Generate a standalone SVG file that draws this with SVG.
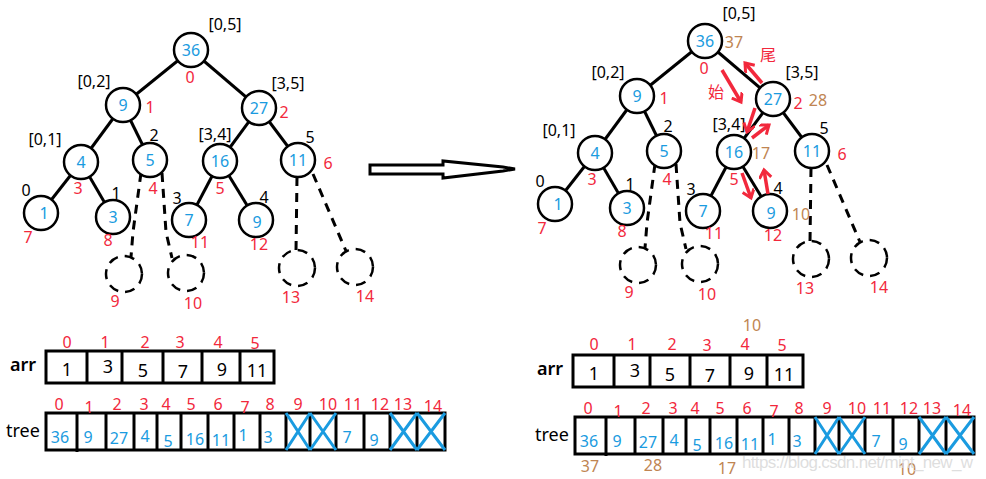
<svg xmlns="http://www.w3.org/2000/svg" width="986" height="479" viewBox="0 0 986 479">
<defs>
<style>
text{font-family:"Noto Sans","Noto Sans CJK SC",sans-serif;font-size:16px;text-anchor:middle}
.node circle{fill:#fff;stroke:#000;stroke-width:2.5}
.node text{fill:#1a9be0}
.ghost circle{fill:none;stroke:#000;stroke-width:2.5;stroke-dasharray:10 7}
.edge{stroke:#000;stroke-width:3;fill:none}
.dash{stroke:#000;stroke-width:3;fill:none;stroke-dasharray:9 7}
.blk{fill:#000}
.red{fill:#f2283c}
.tan{fill:#c08552}
.blue{fill:#1a9be0}
.box{fill:#fff;stroke:#000;stroke-width:3}
.div{stroke:#000;stroke-width:3}
.x{stroke:#1a9be0;stroke-width:3}
.lbl{font-size:18px;fill:#000;font-weight:600}
.tlbl{font-size:18px;fill:#000}
.val{font-size:18px;fill:#000}
.ra{stroke:#f2283c;stroke-width:3.5;fill:none;marker-end:url(#rh)}
</style>
<marker id="rh" markerWidth="14" markerHeight="14" refX="9" refY="6" orient="auto" markerUnits="userSpaceOnUse">
<path d="M1,0 L9,6 L1,12" fill="none" stroke="#f2283c" stroke-width="3"/>
</marker>
</defs>
<rect width="986" height="479" fill="#fff"/>

<!-- Left tree connectors -->
<g id="connectors-left">
<line class="edge" x1="191" y1="50" x2="123" y2="105"/>
<line class="edge" x1="191" y1="50" x2="259" y2="108"/>
<line class="edge" x1="123" y1="105" x2="81" y2="162"/>
<line class="edge" x1="123" y1="105" x2="150" y2="160"/>
<line class="edge" x1="259" y1="108" x2="220" y2="161"/>
<line class="edge" x1="259" y1="108" x2="298" y2="160"/>
<line class="edge" x1="81" y1="162" x2="41" y2="213"/>
<line class="edge" x1="81" y1="162" x2="113" y2="217"/>
<line class="edge" x1="220" y1="161" x2="189" y2="220"/>
<line class="edge" x1="220" y1="161" x2="256" y2="220"/>
<polyline class="dash" points="141,173 133,232 131,257"/>
<polyline class="dash" points="162,173 166,232 172,258"/>
<line class="dash" x1="297" y1="177" x2="296" y2="251"/>
<line class="dash" x1="313" y1="174" x2="346" y2="251"/>
</g>

<!-- Left tree nodes -->
<g id="L-n0" class="node"><circle cx="191" cy="50" r="17"/><text x="191" y="56">36</text></g>
<g id="L-n1" class="node"><circle cx="123" cy="105" r="17"/><text x="123" y="111">9</text></g>
<g id="L-n2" class="node"><circle cx="259" cy="108" r="17"/><text x="259" y="114">27</text></g>
<g id="L-n3" class="node"><circle cx="81" cy="162" r="17"/><text x="81" y="168">4</text></g>
<g id="L-n4" class="node"><circle cx="150" cy="160" r="17"/><text x="150" y="166">5</text></g>
<g id="L-n5" class="node"><circle cx="220" cy="161" r="17"/><text x="220" y="167">16</text></g>
<g id="L-n6" class="node"><circle cx="298" cy="160" r="17"/><text x="298" y="166">11</text></g>
<g id="L-n7" class="node"><circle cx="41" cy="213" r="17"/><text x="44" y="219">1</text></g>
<g id="L-n8" class="node"><circle cx="113" cy="217" r="17"/><text x="113" y="223">3</text></g>
<g id="L-n11" class="node"><circle cx="189" cy="220" r="17"/><text x="189" y="226">7</text></g>
<g id="L-n12" class="node"><circle cx="256" cy="220" r="17"/><text x="257" y="228">9</text></g>
<g id="L-n9" class="ghost"><circle cx="124" cy="274" r="18"/></g>
<g id="L-n10" class="ghost"><circle cx="186" cy="273" r="18"/></g>
<g id="L-n13" class="ghost"><circle cx="297" cy="268" r="18"/></g>
<g id="L-n14" class="ghost"><circle cx="355" cy="267" r="18"/></g>

<!-- Left tree labels -->
<g id="labels-left">
<text class="blk" x="225" y="30">[0,5]</text>
<text class="red" x="190" y="83">0</text>
<text class="blk" x="94" y="87">[0,2]</text>
<text class="red" x="150" y="113">1</text>
<text class="blk" x="288" y="89">[3,5]</text>
<text class="red" x="284" y="118">2</text>
<text class="blk" x="45" y="145">[0,1]</text>
<text class="blk" x="154" y="141">2</text>
<text class="blk" x="215" y="140">[3,4]</text>
<text class="blk" x="310" y="143">5</text>
<text class="red" x="328" y="169">6</text>
<text class="red" x="78" y="194">3</text>
<text class="red" x="153" y="194">4</text>
<text class="red" x="220" y="194">5</text>
<text class="blk" x="26" y="196">0</text>
<text class="blk" x="116" y="199">1</text>
<text class="blk" x="177" y="204">3</text>
<text class="blk" x="264" y="203">4</text>
<text class="red" x="28" y="243">7</text>
<text class="red" x="108" y="246">8</text>
<text class="red" x="200" y="248">11</text>
<text class="red" x="259" y="250">12</text>
<text class="red" x="115" y="307">9</text>
<text class="red" x="193" y="309">10</text>
<text class="red" x="291" y="303">13</text>
<text class="red" x="365" y="302">14</text>
</g>

<!-- Big arrow -->
<g id="transition-arrow">
<polygon points="370,165 443,165 443,161 503,167 515,169 503,171 443,178 443,174 370,174" fill="#fff" stroke="#000" stroke-width="3" stroke-linejoin="miter"/>
</g>

<!-- Right tree connectors -->
<g id="connectors-right" transform="translate(514,-9)">
<line class="edge" x1="191" y1="50" x2="123" y2="105"/>
<line class="edge" x1="191" y1="50" x2="259" y2="108"/>
<line class="edge" x1="123" y1="105" x2="81" y2="162"/>
<line class="edge" x1="123" y1="105" x2="150" y2="160"/>
<line class="edge" x1="259" y1="108" x2="220" y2="161"/>
<line class="edge" x1="259" y1="108" x2="298" y2="160"/>
<line class="edge" x1="81" y1="162" x2="41" y2="213"/>
<line class="edge" x1="81" y1="162" x2="113" y2="217"/>
<line class="edge" x1="220" y1="161" x2="189" y2="220"/>
<line class="edge" x1="220" y1="161" x2="256" y2="220"/>
<polyline class="dash" points="141,173 133,232 131,257"/>
<polyline class="dash" points="162,173 166,232 172,258"/>
<line class="dash" x1="297" y1="177" x2="296" y2="251"/>
<line class="dash" x1="313" y1="174" x2="346" y2="251"/>
</g>

<!-- Right tree nodes -->
<g transform="translate(514,-9)">
<g id="R-n0" class="node"><circle cx="191" cy="50" r="17"/><text x="191" y="56">36</text></g>
<g id="R-n1" class="node"><circle cx="123" cy="105" r="17"/><text x="123" y="111">9</text></g>
<g id="R-n2" class="node"><circle cx="259" cy="108" r="17"/><text x="259" y="114">27</text></g>
<g id="R-n3" class="node"><circle cx="81" cy="162" r="17"/><text x="81" y="168">4</text></g>
<g id="R-n4" class="node"><circle cx="150" cy="160" r="17"/><text x="150" y="166">5</text></g>
<g id="R-n5" class="node"><circle cx="220" cy="161" r="17"/><text x="220" y="167">16</text></g>
<g id="R-n6" class="node"><circle cx="298" cy="160" r="17"/><text x="298" y="166">11</text></g>
<g id="R-n7" class="node"><circle cx="41" cy="213" r="17"/><text x="44" y="219">1</text></g>
<g id="R-n8" class="node"><circle cx="113" cy="217" r="17"/><text x="113" y="223">3</text></g>
<g id="R-n11" class="node"><circle cx="189" cy="220" r="17"/><text x="189" y="226">7</text></g>
<g id="R-n12" class="node"><circle cx="256" cy="220" r="17"/><text x="257" y="228">9</text></g>
<g id="R-n9" class="ghost"><circle cx="124" cy="274" r="18"/></g>
<g id="R-n10" class="ghost"><circle cx="186" cy="273" r="18"/></g>
<g id="R-n13" class="ghost"><circle cx="297" cy="268" r="18"/></g>
<g id="R-n14" class="ghost"><circle cx="355" cy="267" r="18"/></g>
</g>

<!-- Right tree labels -->
<g id="labels-right" transform="translate(514,-9)">
<text class="blk" x="225" y="28">[0,5]</text>
<text class="red" x="190" y="83">0</text>
<text class="blk" x="94" y="87">[0,2]</text>
<text class="red" x="150" y="113">1</text>
<text class="blk" x="288" y="87">[3,5]</text>
<text class="red" x="284" y="118">2</text>
<text class="blk" x="45" y="145">[0,1]</text>
<text class="blk" x="154" y="141">2</text>
<text class="blk" x="215" y="139">[3,4]</text>
<text class="blk" x="310" y="143">5</text>
<text class="red" x="328" y="169">6</text>
<text class="red" x="78" y="194">3</text>
<text class="red" x="153" y="194">4</text>
<text class="red" x="220" y="194">5</text>
<text class="blk" x="26" y="196">0</text>
<text class="blk" x="116" y="199">1</text>
<text class="blk" x="177" y="204">3</text>
<text class="blk" x="264" y="203">4</text>
<text class="red" x="28" y="243">7</text>
<text class="red" x="108" y="246">8</text>
<text class="red" x="200" y="248">11</text>
<text class="red" x="259" y="250">12</text>
<text class="red" x="115" y="307">9</text>
<text class="red" x="193" y="309">10</text>
<text class="red" x="291" y="303">13</text>
<text class="red" x="365" y="302">14</text>
</g>
<g id="labels-right-extra">
<text class="tan" x="734" y="48">37</text>
<text class="tan" x="818" y="106">28</text>
<text class="tan" x="761" y="159">17</text>
<text class="tan" x="801" y="220">10</text>
<text class="red" x="768" y="61">尾</text>
<text class="red" x="716" y="98">始</text>
</g>

<!-- Red path arrows -->
<g id="path-arrows">
<line class="ra" x1="762" y1="83" x2="745" y2="63"/>
<line class="ra" x1="722" y1="70" x2="741" y2="102"/>
<line class="ra" x1="755" y1="108" x2="747" y2="132"/>
<line class="ra" x1="752" y1="138" x2="769" y2="125"/>
<line class="ra" x1="742" y1="173" x2="751" y2="198"/>
<line class="ra" x1="768" y1="194" x2="764" y2="170"/>
</g>

<!-- Left arrays -->
<g id="arr-left">
<text class="lbl" x="23" y="371">arr</text>
<rect class="box" x="46" y="351" width="228" height="32"/>
<line class="div" x1="87" y1="351" x2="87" y2="383"/>
<line class="div" x1="122" y1="351" x2="122" y2="383"/>
<line class="div" x1="163" y1="351" x2="163" y2="383"/>
<line class="div" x1="202" y1="351" x2="202" y2="383"/>
<line class="div" x1="240" y1="351" x2="240" y2="383"/>
<text class="red" x="67" y="348">0</text>
<text class="red" x="105" y="348">1</text>
<text class="red" x="145" y="348">2</text>
<text class="red" x="180" y="348">3</text>
<text class="red" x="218" y="348">4</text>
<text class="red" x="255" y="349">5</text>
<text class="val" x="67" y="376">1</text>
<text class="val" x="108" y="373">3</text>
<text class="val" x="143" y="377">5</text>
<text class="val" x="183" y="378">7</text>
<text class="val" x="222" y="376">9</text>
<text class="val" x="257" y="377">11</text>
</g>
<g id="tree-left">
<text class="tlbl" x="23" y="437">tree</text>
<rect class="box" x="46" y="413" width="399" height="37"/>
<line class="div" x1="77" y1="413" x2="77" y2="452"/>
<line class="div" x1="106" y1="413" x2="106" y2="450"/>
<line class="div" x1="134" y1="413" x2="134" y2="450"/>
<line class="div" x1="157" y1="413" x2="157" y2="450"/>
<line class="div" x1="181" y1="413" x2="181" y2="450"/>
<line class="div" x1="208" y1="413" x2="208" y2="450"/>
<line class="div" x1="234" y1="413" x2="234" y2="450"/>
<line class="div" x1="260" y1="413" x2="260" y2="450"/>
<line class="div" x1="286" y1="413" x2="286" y2="450"/>
<line class="div" x1="310" y1="413" x2="310" y2="450"/>
<line class="div" x1="336" y1="413" x2="336" y2="450"/>
<line class="div" x1="364" y1="413" x2="364" y2="450"/>
<line class="div" x1="390" y1="413" x2="390" y2="450"/>
<line class="div" x1="417" y1="413" x2="417" y2="450"/>
<text class="red" x="59" y="410">0</text>
<text class="red" x="89" y="413">1</text>
<text class="red" x="117" y="410">2</text>
<text class="red" x="144" y="410">3</text>
<text class="red" x="166" y="410">4</text>
<text class="red" x="191" y="410">5</text>
<text class="red" x="218" y="410">6</text>
<text class="red" x="245" y="413">7</text>
<text class="red" x="270" y="410">8</text>
<text class="red" x="298" y="410">9</text>
<text class="red" x="328" y="410">10</text>
<text class="red" x="353" y="410">11</text>
<text class="red" x="380" y="410">12</text>
<text class="red" x="403" y="410">13</text>
<text class="red" x="433" y="412">14</text>
<text class="blue" x="60" y="443">36</text>
<text class="blue" x="88" y="443">9</text>
<text class="blue" x="119" y="444">27</text>
<text class="blue" x="145" y="442">4</text>
<text class="blue" x="168" y="447">5</text>
<text class="blue" x="195" y="445">16</text>
<text class="blue" x="221" y="446">11</text>
<text class="blue" x="243" y="441">1</text>
<text class="blue" x="268" y="443">3</text>
<text class="blue" x="347" y="443">7</text>
<text class="blue" x="374" y="446">9</text>
<path class="x" d="M286,413 L310,450 M310,413 L286,450 M310,413 L336,450 M336,413 L310,450 M390,413 L417,450 M417,413 L390,450 M417,413 L445,450 M445,413 L417,450"/>
</g>

<!-- Right arrays -->
<g id="arr-right" transform="translate(527,4)">
<text class="lbl" x="23" y="371">arr</text>
<rect class="box" x="46" y="351" width="230" height="32"/>
<line class="div" x1="87" y1="351" x2="87" y2="383"/>
<line class="div" x1="123" y1="351" x2="123" y2="383"/>
<line class="div" x1="163" y1="351" x2="163" y2="383"/>
<line class="div" x1="203" y1="351" x2="203" y2="383"/>
<line class="div" x1="240" y1="351" x2="240" y2="383"/>
<text class="red" x="67" y="346">0</text>
<text class="red" x="105" y="346">1</text>
<text class="red" x="145" y="346">2</text>
<text class="red" x="180" y="347">3</text>
<text class="red" x="218" y="346">4</text>
<text class="red" x="255" y="347">5</text>
<text class="val" x="67" y="376">1</text>
<text class="val" x="108" y="373">3</text>
<text class="val" x="143" y="377">5</text>
<text class="val" x="183" y="378">7</text>
<text class="val" x="222" y="376">9</text>
<text class="val" x="257" y="377">11</text>
</g>
<text class="tan" x="752" y="331">10</text>
<g id="tree-right" transform="translate(529,4)">
<text class="tlbl" x="23" y="437">tree</text>
<rect class="box" x="46" y="413" width="399" height="37"/>
<line class="div" x1="77" y1="413" x2="77" y2="452"/>
<line class="div" x1="106" y1="413" x2="106" y2="450"/>
<line class="div" x1="134" y1="413" x2="134" y2="450"/>
<line class="div" x1="157" y1="413" x2="157" y2="450"/>
<line class="div" x1="181" y1="413" x2="181" y2="450"/>
<line class="div" x1="208" y1="413" x2="208" y2="450"/>
<line class="div" x1="234" y1="413" x2="234" y2="450"/>
<line class="div" x1="260" y1="413" x2="260" y2="450"/>
<line class="div" x1="286" y1="413" x2="286" y2="450"/>
<line class="div" x1="310" y1="413" x2="310" y2="450"/>
<line class="div" x1="336" y1="413" x2="336" y2="450"/>
<line class="div" x1="364" y1="413" x2="364" y2="450"/>
<line class="div" x1="390" y1="413" x2="390" y2="450"/>
<line class="div" x1="417" y1="413" x2="417" y2="450"/>
<text class="red" x="59" y="410">0</text>
<text class="red" x="89" y="413">1</text>
<text class="red" x="117" y="410">2</text>
<text class="red" x="144" y="410">3</text>
<text class="red" x="166" y="410">4</text>
<text class="red" x="191" y="410">5</text>
<text class="red" x="218" y="410">6</text>
<text class="red" x="245" y="413">7</text>
<text class="red" x="270" y="410">8</text>
<text class="red" x="298" y="410">9</text>
<text class="red" x="328" y="410">10</text>
<text class="red" x="353" y="410">11</text>
<text class="red" x="380" y="410">12</text>
<text class="red" x="403" y="410">13</text>
<text class="red" x="433" y="412">14</text>
<text class="blue" x="60" y="443">36</text>
<text class="blue" x="88" y="443">9</text>
<text class="blue" x="119" y="444">27</text>
<text class="blue" x="145" y="442">4</text>
<text class="blue" x="168" y="447">5</text>
<text class="blue" x="195" y="445">16</text>
<text class="blue" x="221" y="446">11</text>
<text class="blue" x="243" y="441">1</text>
<text class="blue" x="268" y="443">3</text>
<text class="blue" x="347" y="443">7</text>
<text class="blue" x="374" y="446">9</text>
<path class="x" d="M286,413 L310,450 M310,413 L286,450 M310,413 L336,450 M336,413 L310,450 M390,413 L417,450 M417,413 L390,450 M417,413 L445,450 M445,413 L417,450"/>
</g>
<g id="tree-right-extra">
<text class="tan" x="590" y="472">37</text>
<text class="tan" x="653" y="471">28</text>
<text class="tan" x="727" y="474">17</text>
<text class="tan" x="907" y="475">10</text>
</g>
<text x="742" y="468" style="text-anchor:start;font-family:'Liberation Sans',sans-serif;font-size:17px;fill:#d8d8d8;fill-opacity:0.85" textLength="231">https://blog.csdn.net/mint_new_w</text>
</svg>
